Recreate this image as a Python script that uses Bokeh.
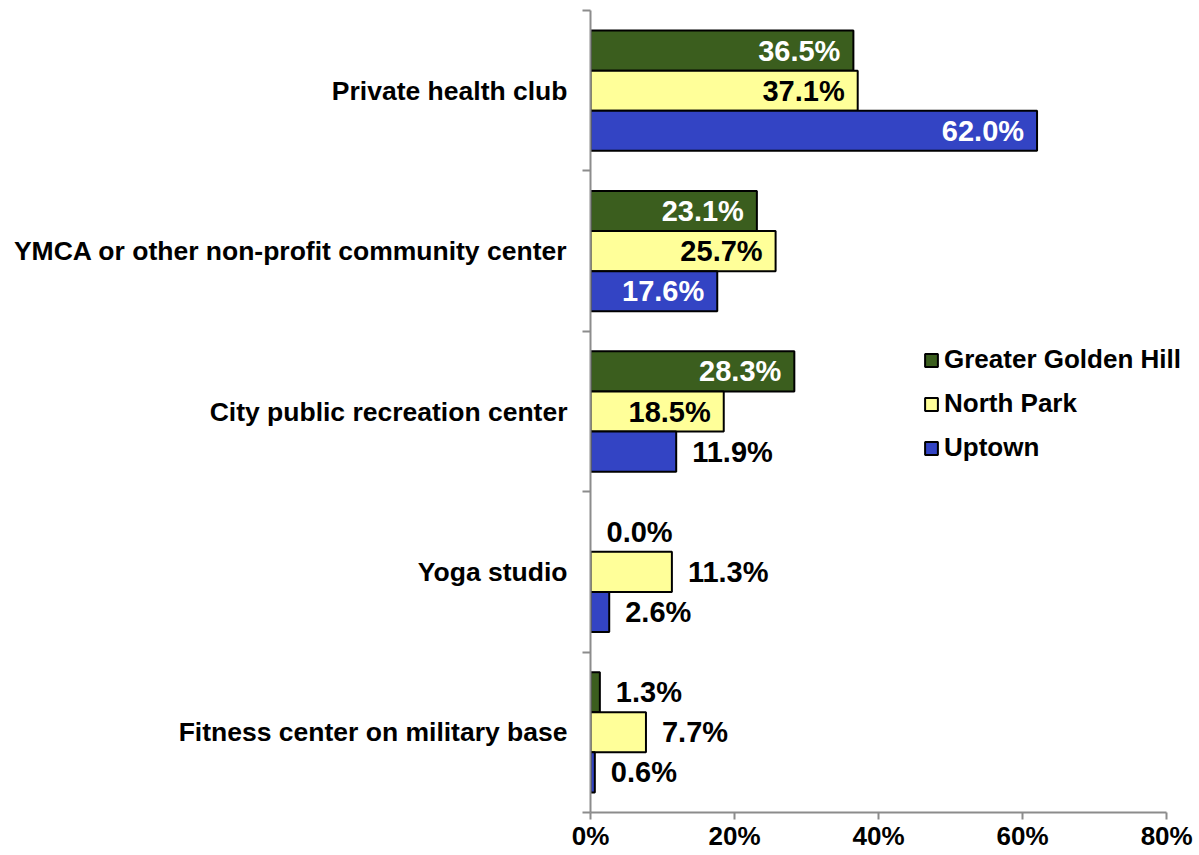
from bokeh.plotting import figure
from bokeh.models import ColumnDataSource, FixedTicker, Legend, LegendItem
from bokeh.core.properties import value
from bokeh.embed import file_html
from bokeh.resources import INLINE

categories = ["Private health club",
              "YMCA or other non-profit community center",
              "City public recreation center",
              "Yoga studio",
              "Fitness center on military base"]
series = ["Greater Golden Hill", "North Park", "Uptown"]
golden_hill = [36.5, 23.1, 28.3, 0.0, 1.3]
north_park = [37.1, 25.7, 18.5, 11.3, 7.7]
uptown = [62.0, 17.6, 11.9, 2.6, 0.6]
x_ticks = [0, 20, 40, 60, 80]

colors = ["#3B5E1E", "#FFFF99", "#3344C4"]
inside_text_colors = ["white", "black", "white"]
FONT = "Liberation Sans"

n = len(categories)
centers = [n - i - 0.5 for i in range(n)]
boundaries = list(range(n + 1))
bar_h = 0.25
offsets = [bar_h, 0.0, -bar_h]

p = figure(width=1199, height=855, x_range=(0, 84), y_range=(0, n),
           output_backend="svg", toolbar_location=None,
           min_border_left=590, min_border_right=4,
           min_border_top=10, min_border_bottom=43)
p.outline_line_color = None
p.xgrid.grid_line_color = None
p.ygrid.grid_line_color = None
p.background_fill_color = "white"

renderers = []
for k, (name, vals) in enumerate(zip(series, [golden_hill, north_park, uptown])):
    ys = [c + offsets[k] for c in centers]
    inside = [v > 15 for v in vals]
    src = ColumnDataSource(dict(y=ys, v=vals,
                                lc=["black" if v > 0 else None for v in vals]))
    r = p.hbar(y="y", right="v", left=0, height=bar_h, source=src,
               fill_color=colors[k], line_color="lc", line_width=2)
    renderers.append(r)
    src_in = ColumnDataSource(dict(
        y=[y for y, i in zip(ys, inside) if i],
        v=[v for v, i in zip(vals, inside) if i],
        lab=[f"{v:.1f}%" for v, i in zip(vals, inside) if i]))
    src_out = ColumnDataSource(dict(
        y=[y for y, i in zip(ys, inside) if not i],
        v=[v for v, i in zip(vals, inside) if not i],
        lab=[f"{v:.1f}%" for v, i in zip(vals, inside) if not i]))
    p.text(x="v", y="y", text="lab", source=src_in, x_offset=-13,
           text_align="right", text_baseline="middle",
           text_color=inside_text_colors[k], text_font=value(FONT),
           text_font_style="bold", text_font_size="29px")
    p.text(x="v", y="y", text="lab", source=src_out, x_offset=16,
           text_align="left", text_baseline="middle",
           text_color="black", text_font=value(FONT),
           text_font_style="bold", text_font_size="29px")

# y axis
yax = p.yaxis[0]
yax.ticker = FixedTicker(ticks=centers, minor_ticks=boundaries)
yax.major_label_overrides = {c: cat for c, cat in zip(centers, categories)}
yax.major_tick_line_color = None
yax.minor_tick_line_color = "#8C8C8C"
yax.minor_tick_line_width = 2
yax.minor_tick_out = 8
yax.minor_tick_in = 0
yax.axis_line_color = "#8C8C8C"
yax.axis_line_width = 2
yax.major_label_standoff = 15
yax.major_label_text_font = FONT
yax.major_label_text_font_style = "bold"
yax.major_label_text_font_size = "26.5px"
yax.major_label_text_color = "black"

# x axis
xax = p.xaxis[0]
xax.bounds = (x_ticks[0], x_ticks[-1])
xax.ticker = FixedTicker(ticks=x_ticks, minor_ticks=[])
xax.major_label_overrides = {t: f"{t}%" for t in x_ticks}
xax.major_tick_line_color = "#8C8C8C"
xax.major_tick_line_width = 2
xax.major_tick_out = 7
xax.major_tick_in = 0
xax.axis_line_color = "#8C8C8C"
xax.axis_line_width = 2
xax.major_label_standoff = 1
xax.major_label_text_font = FONT
xax.major_label_text_font_style = "bold"
xax.major_label_text_font_size = "26px"
xax.major_label_text_color = "black"

legend = Legend(items=[LegendItem(label=s, renderers=[r]) for s, r in zip(series, renderers)],
                location=(333, 349), orientation="vertical",
                padding=0, margin=0, spacing=13,
                glyph_width=16, glyph_height=16, label_height=30,
                label_standoff=5,
                label_text_font=FONT, label_text_font_style="bold",
                label_text_font_size="26px", label_text_color="black",
                border_line_color=None, background_fill_alpha=0)
p.add_layout(legend)

open("out.html", "w").write(file_html(p, INLINE))
